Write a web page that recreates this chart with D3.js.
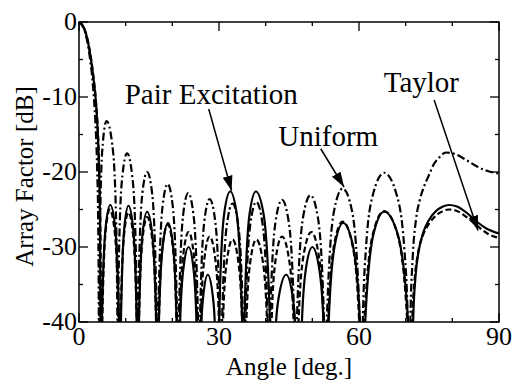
<!DOCTYPE html>
<html>
<head>
<meta charset="utf-8">
<script src="https://cdn.jsdelivr.net/npm/d3@7"></script>
<style>
  html, body { margin: 0; padding: 0; background: #fff; }
  svg text { font-family: "Liberation Serif", "Times New Roman", serif; fill: #000; }
</style>
</head>
<body>
<div id="chart"></div>
<script>
// angle [deg.], array factor [dB]; nulls are put at -60 and clipped away
let uniform = [
    [0,0],[1,-0.8],[2,-3.4],[3,-8.6],[3.5,-13.2],[3.9,-19.8],[4.1,-26.2],[4.25,-40],[4.3,-60],
    [4.35,-40],[4.62,-23.4],[5.1,-16.2],[5.9,-13.2],[7.1,-16.2],[7.82,-23.4],[8.23,-40],[8.3,-60],
    [8.4,-40],[8.7,-27.7],[9.3,-20.5],[10.3,-17.5],[11.4,-20.5],[12.06,-27.7],[12.39,-40],[12.5,-60],
    [12.63,-40],[13.55,-23],[14.6,-20],[15.7,-23],[16.66,-40],[16.8,-60],
    [16.97,-40],[17.9,-24.6],[19,-21.6],[20.1,-24.6],[21.03,-40],[21.2,-60],
    [21.39,-40],[22.3,-25.8],[23.4,-22.8],[24.55,-25.8],[25.5,-40],[25.7,-60],
    [25.92,-40],[26.85,-26.6],[28,-23.6],[29.2,-26.6],[30.17,-40],[30.4,-60],
    [30.66,-40],[31.65,-27.2],[32.9,-24.2],[34.15,-27.2],[35.14,-40],[35.4,-60],
    [35.66,-40],[36.7,-27],[38,-24],[39.35,-27],[40.43,-40],[40.7,-60],
    [40.97,-40],[42.1,-26.7],[43.5,-23.7],[44.95,-26.7],[46.12,-40],[46.4,-60],
    [46.69,-40],[48,-26.1],[49.6,-23.1],[51.2,-26.1],[52.51,-40],[52.8,-60],
    [53.1,-40],[54.65,-25.2],[56.5,-22.2],[58.5,-25.2],[60.17,-40],[60.5,-60],
    [60.82,-40],[61.48,-30.3],[62.95,-23.1],[65.4,-20.1],[68.1,-23.1],[69.72,-30.3],[70.45,-40],[70.8,-60],
    [71,-40],[71.5,-31.5],[72.2,-26.4],[73,-23.8],[73.9,-22],[75,-20.4],[76,-19],[77.3,-18],
    [78.6,-17.4],[80.5,-17.6],[83,-18.4],[85.4,-19.3],[88.3,-20],[90,-20.2]
];

let pair = [
    [0,0],[1,-0.7],[2,-2.9],[3,-7],[3.6,-10.5],[4,-14.5],[4.3,-20],[4.5,-27],[4.62,-40],[4.7,-60],
    [4.91,-40],[5.7,-27.4],[6.7,-24.4],[7.75,-27.4],[8.58,-40],[8.8,-60],
    [8.99,-40],[9.7,-27.5],[10.6,-24.5],[11.6,-27.5],[12.39,-40],[12.6,-60],
    [12.84,-40],[13.6,-28.3],[14.6,-25.3],[15.7,-28.3],[16.54,-40],[16.8,-60],
    [17.12,-40],[17.95,-29.8],[19.1,-26.8],[20.15,-29.8],[20.91,-40],[21.2,-60],
    [21.67,-40],[22.35,-33],[23.5,-30],[24.55,-33],[25.17,-40],[25.6,-60],
    [26.24,-40],[26.6,-36.7],[27.6,-33.7],[28.7,-36.7],[29.09,-40],[29.8,-60],
    [30.02,-40],[31.1,-25.6],[32.4,-22.6],[33.8,-25.6],[34.96,-40],[35.2,-60],
    [35.43,-40],[36.55,-25.6],[37.9,-22.6],[39.55,-25.6],[40.92,-40],[41.2,-60],
    [42.23,-40],[42.8,-36.7],[44.4,-33.7],[45.8,-36.7],[46.3,-40],[47.2,-60],
    [47.77,-40],[48.6,-33],[50,-30],[51.5,-33],[52.39,-40],[53,-60],
    [53.5,-40],[54.8,-29.8],[56.6,-26.8],[58.7,-29.8],[60.21,-40],[60.8,-60],
    [61.34,-40],[63.1,-28.3],[65.4,-25.3],[68.3,-28.3],[70.52,-40],[71.2,-60],
    [71.6,-40],[72.1,-34],[72.8,-30.5],[73.8,-28],[75,-26.4],[76.5,-25.2],[78,-24.6],
    [79.3,-24.4],[81,-24.6],[83,-25.4],[85,-26.5],[87.5,-27.6],[90,-28.2]
];

let taylor = [
    [0,0],[1,-0.7],[2,-2.8],[3,-6.8],[3.6,-10.3],[4,-14],[4.35,-20],[4.6,-28],[4.72,-40],[4.8,-60],
    [5,-40],[5.7,-28],[6.6,-25],[7.65,-28],[8.46,-40],[8.7,-60],
    [8.93,-40],[9.65,-28.4],[10.6,-25.4],[11.6,-28.4],[12.36,-40],[12.6,-60],
    [12.86,-40],[13.6,-29],[14.6,-26],[15.7,-29],[16.52,-40],[16.8,-60],
    [17.12,-40],[17.9,-30],[19,-27],[20.1,-30],[20.88,-40],[21.2,-60],
    [21.57,-40],[22.35,-31],[23.5,-28],[24.6,-31],[25.34,-40],[25.7,-60],
    [26.1,-40],[26.85,-31.6],[28,-28.6],[29.2,-31.6],[29.99,-40],[30.4,-60],
    [30.86,-40],[31.65,-32],[32.9,-29],[34.15,-32],[34.95,-40],[35.4,-60],
    [35.87,-40],[36.7,-32],[38,-29],[39.4,-32],[40.29,-40],[40.8,-60],
    [41.27,-40],[42.15,-31.6],[43.5,-28.6],[45,-31.6],[45.98,-40],[46.5,-60],
    [47.04,-40],[48.15,-31],[49.8,-28],[51.35,-31],[52.4,-40],[52.9,-60],
    [53.39,-40],[54.7,-29.6],[56.5,-26.6],[58.55,-29.6],[60.04,-40],[60.6,-60],
    [61.16,-40],[63,-28.2],[65.4,-25.2],[68.2,-28.2],[70.35,-40],[71,-60],
    [71.4,-40],[71.9,-34.5],[72.6,-31],[73.6,-28.6],[75,-26.9],[76.5,-25.8],[78,-25.2],
    [79.2,-25],[81,-25.2],[83,-26],[85,-27],[87.5,-28.2],[90,-28.8]
];

let xTickLabels = [0, 30, 60, 90];
let yTickLabels = [0, -10, -20, -30, -40];

// label text, label anchor [deg, dB], arrow start, arrow tip
let labels = [
    {text: "Pair Excitation", at: [9.8, -10.9], from: [27.8, -11.6], to: [32.7, -22.5]},
    {text: "Uniform", at: [42.7, -16.5], from: [51.8, -16.9], to: [56.8, -22.0]},
    {text: "Taylor", at: [65.3, -9.3], from: [76.1, -10.4], to: [85.5, -27.8]}
];

let width = 519, height = 385;
let plotLeft = 79, plotRight = 499, plotTop = 22, plotBottom = 322;

let svg = d3.select("#chart").append("svg")
    .attr("width", width)
    .attr("height", height);

let x = d3.scaleLinear().domain([0, 90]).range([plotLeft, plotRight]);
let y = d3.scaleLinear().domain([-40, 0]).range([plotBottom, plotTop]);

let defs = svg.append("defs");
defs.append("clipPath").attr("id", "plotclip")
    .append("rect")
    .attr("x", plotLeft).attr("y", plotTop)
    .attr("width", plotRight - plotLeft).attr("height", plotBottom - plotTop);

defs.append("marker")
    .attr("id", "head")
    .attr("markerUnits", "userSpaceOnUse")
    .attr("markerWidth", 16).attr("markerHeight", 12)
    .attr("refX", 15).attr("refY", 5)
    .attr("orient", "auto")
    .append("path")
    .attr("d", "M0,0 L15,5 L0,10 Z")
    .attr("fill", "#000");

// ticks inside the frame, on all four sides
let xMinor = d3.range(0, 91, 10);
let yMinor = d3.range(-40, 1, 5);
let ticks = svg.append("g").attr("stroke", "#000").attr("stroke-width", 1.3);
xMinor.forEach(function (d) {
    let len = xTickLabels.indexOf(d) !== -1 ? 9 : 4;
    ticks.append("line").attr("x1", x(d)).attr("x2", x(d)).attr("y1", plotBottom).attr("y2", plotBottom - len);
    ticks.append("line").attr("x1", x(d)).attr("x2", x(d)).attr("y1", plotTop).attr("y2", plotTop + len);
});
yMinor.forEach(function (d) {
    let len = yTickLabels.indexOf(d) !== -1 ? 9 : 4;
    ticks.append("line").attr("y1", y(d)).attr("y2", y(d)).attr("x1", plotLeft).attr("x2", plotLeft + len);
    ticks.append("line").attr("y1", y(d)).attr("y2", y(d)).attr("x1", plotRight).attr("x2", plotRight - len);
});

// curves
let line = d3.line()
    .x(function (d) { return x(d[0]); })
    .y(function (d) { return y(d[1]); })
    .curve(d3.curveMonotoneX);

let curves = svg.append("g").attr("clip-path", "url(#plotclip)")
    .attr("fill", "none").attr("stroke", "#000")
    .attr("stroke-width", 2.2).attr("stroke-linejoin", "round");

curves.append("path").datum(taylor).attr("d", line).attr("stroke-dasharray", "6,3");
curves.append("path").datum(uniform).attr("d", line).attr("stroke-dasharray", "8,3,2,3");
curves.append("path").datum(pair).attr("d", line);

// frame
svg.append("rect")
    .attr("x", plotLeft).attr("y", plotTop)
    .attr("width", plotRight - plotLeft).attr("height", plotBottom - plotTop)
    .attr("fill", "none").attr("stroke", "#000").attr("stroke-width", 1.5);

// tick labels
svg.append("g").selectAll("text").data(xTickLabels).enter().append("text")
    .attr("x", function (d) { return x(d); })
    .attr("y", 345)
    .attr("text-anchor", "middle")
    .attr("font-size", 26)
    .text(function (d) { return d; });

svg.append("g").selectAll("text").data(yTickLabels).enter().append("text")
    .attr("x", plotLeft - 2)
    .attr("y", function (d) { return y(d) - 1; })
    .attr("dy", "0.35em")
    .attr("text-anchor", "end")
    .attr("font-size", 26)
    .text(function (d) { return d; });

// axis titles
svg.append("text")
    .attr("x", x(45)).attr("y", 375)
    .attr("text-anchor", "middle")
    .attr("font-size", 25)
    .text("Angle [deg.]");

svg.append("text")
    .attr("transform", "translate(33," + y(-20.6) + ") rotate(-90)")
    .attr("text-anchor", "middle")
    .attr("font-size", 25)
    .text("Array Factor [dB]");

// curve labels with arrows
labels.forEach(function (d) {
    svg.append("text")
        .attr("x", x(d.at[0])).attr("y", y(d.at[1]))
        .attr("font-size", 29)
        .text(d.text);
    svg.append("line")
        .attr("x1", x(d.from[0])).attr("y1", y(d.from[1]))
        .attr("x2", x(d.to[0])).attr("y2", y(d.to[1]))
        .attr("stroke", "#000").attr("stroke-width", 1.5)
        .attr("marker-end", "url(#head)");
});
</script>
</body>
</html>
